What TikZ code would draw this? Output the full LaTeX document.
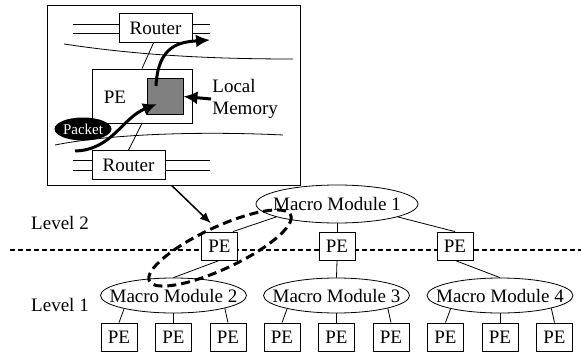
\documentclass[tikz,border=0pt]{standalone}
\usepackage{fontspec}
\setmainfont{Liberation Serif}
\usetikzlibrary{shapes.geometric,arrows.meta}
\tikzset{
  pebox/.style={draw,fill=white,minimum width=36pt,minimum height=28pt,inner sep=0pt},
  mmod/.style={draw,fill=white,ellipse,minimum width=146pt,minimum height=35pt,inner sep=0pt},
  router/.style={draw,fill=white,minimum width=73pt,minimum height=29pt,inner sep=0pt},
  packet/.style={ellipse,fill=black,text=white,inner sep=0pt,minimum width=57pt,minimum height=23pt,font=\fontsize{15}{17}\selectfont},
  fat/.style={line width=3pt,-{Latex[length=14pt,width=13pt]}},
}
\begin{document}
\begin{tikzpicture}[x=1pt,y=-1pt,line width=0.8pt,font=\fontsize{19}{22}\selectfont]
\useasboundingbox (0,0) rectangle (581,356);
\node[draw,minimum width=253pt,minimum height=180pt,inner sep=0pt] (zoom) at (173.5,95) {};
\draw (64,44) .. controls (130,54) and (200,59) .. (293,59);
\draw (55,145) .. controls (110,134) and (200,131) .. (283,135);
\foreach \y in {24,33} {
  \draw (73,\y) -- (119,\y);
  \draw (192,\y) -- (210,\y);
}
\foreach \y in {160,170} {
  \draw (73,\y) -- (92,\y);
  \draw (165,\y) -- (210,\y);
}
\node[router] (rtop) at (155.5,28) {Router};
\node[router] (rbot) at (128.5,165) {Router};
\node[draw,minimum width=100pt,minimum height=54pt,inner sep=0pt] (tpe) at (142,96) {};
\node[inner sep=0pt] (tpename) at (115,97) {PE};
\node[draw,fill=black!50,minimum size=36pt,inner sep=0pt] (mem) at (165,96.5) {};
\draw ([xshift=-2pt]rtop.south) -- (tpe.north);
\draw (tpe.south) -- (rbot.north);
\node[packet] (pkt) at (83,129) {Packet};
\node[anchor=west,align=left,inner sep=1pt] (lmem) at (211,99) {Local\\Memory};
\coordinate (pin) at (75,151);
\coordinate (pout) at (210,40);
\draw[fat] (pin) .. controls (112,150) and (122,118) .. (157,104);
\draw[fat] (156,86) .. controls (158,45) and (180,42) .. (pout);
\draw[fat] (lmem.west) -- (mem.east);
\node (lv2) at (60,223) {Level 2};
\node (lv1) at (60,305) {Level 1};
\draw[line width=2pt,dash pattern=on 5pt off 3pt] (10,250) -- (581,250);
\node[mmod,minimum width=162pt,minimum height=38pt,label=center:Macro Module 1] (mm1) at (337,204) {};
\node[pebox] (pe21) at (219.5,246) {PE};
\node[pebox] (pe22) at (337,246) {PE};
\node[pebox] (pe23) at (455,246) {PE};
\foreach \m/\x in {2/173.5,3/336.5,4/500} {
  \node[mmod,label=center:Macro Module \m] (mm\m) at (\x,295.5) {};
  \node[pebox] (pe\m a) at ({\x-54.5},337) {PE};
  \node[pebox] (pe\m b) at (\x,337) {PE};
  \node[pebox] (pe\m c) at ({\x+54.5},337) {PE};
  \draw (pe\m a.north) -- (mm\m.195.5);
  \draw (pe\m b.north) -- (mm\m.south);
  \draw (pe\m c.north) -- (mm\m.-14);
}
\draw (mm1.192) -- ([xshift=-5pt]pe21.north east);
\draw (mm1.south) -- (pe22.north);
\draw (mm1.-12.6) -- (pe23.north);
\draw (pe21.south) -- (mm2.north);
\draw (pe22.south) -- (mm3.north);
\draw (pe23.south) -- (mm4.north);
\draw[line width=3pt,dash pattern=on 9pt off 5pt,rotate around={25:(220,248)}] (220,248) ellipse (78 and 21);
\draw[line width=1.5pt,-{Latex[length=11pt,width=9pt]},shorten >=12pt] ([xshift=125pt]zoom.south west) -- (pe21.north);
\end{tikzpicture}
\end{document}
